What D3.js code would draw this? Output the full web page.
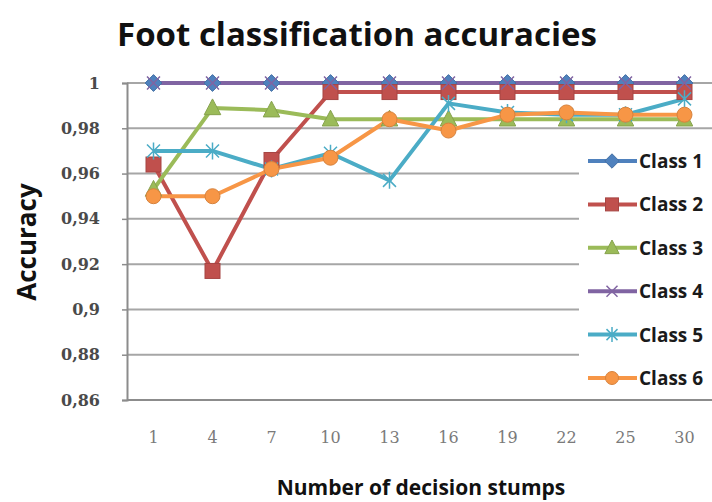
<!DOCTYPE html>
<html>
<head>
<meta charset="utf-8">
<script src="https://cdn.jsdelivr.net/npm/d3@7"></script>
<style>
  html, body { margin: 0; padding: 0; background: #fff; }
  svg { display: block; }
</style>
</head>
<body>
<svg id="chart" width="712" height="502"></svg>
<script>
// Number of decision stumps (x categories)
const stumps = ["1", "4", "7", "10", "13", "16", "19", "22", "25", "30"];

// Accuracy per class
const class1 = [1, 1, 1, 1, 1, 1, 1, 1, 1, 1];
const class2 = [0.964, 0.917, 0.966, 0.996, 0.996, 0.996, 0.996, 0.996, 0.996, 0.996];
const class3 = [0.953, 0.989, 0.988, 0.984, 0.984, 0.984, 0.984, 0.984, 0.984, 0.984];
const class4 = [1, 1, 1, 1, 1, 1, 1, 1, 1, 1];
const class5 = [0.970, 0.970, 0.962, 0.969, 0.957, 0.991, 0.987, 0.986, 0.986, 0.993];
const class6 = [0.950, 0.950, 0.962, 0.967, 0.984, 0.979, 0.986, 0.987, 0.986, 0.986];

const seriesNames = ["Class 1", "Class 2", "Class 3", "Class 4", "Class 5", "Class 6"];
const yTicks = [0.86, 0.88, 0.9, 0.92, 0.94, 0.96, 0.98, 1];

const series = [
  { name: seriesNames[0], values: class1, color: "#4F81BD", marker: "diamond" },
  { name: seriesNames[1], values: class2, color: "#C0504D", marker: "square" },
  { name: seriesNames[2], values: class3, color: "#9BBB59", marker: "triangle" },
  { name: seriesNames[3], values: class4, color: "#8064A2", marker: "x" },
  { name: seriesNames[4], values: class5, color: "#4BACC6", marker: "star" },
  { name: seriesNames[5], values: class6, color: "#F79646", marker: "circle" }
];

const svg = d3.select("#chart");
const plot = { left: 124, right: 714, top: 83, bottom: 400 };

const x = d3.scaleBand().domain(stumps).range([plot.left, plot.right]);
const y = d3.scaleLinear().domain([0.86, 1]).range([plot.bottom, plot.top]);
const cx = c => x(c) + x.bandwidth() / 2;

// Title
svg.append("text")
  .attr("x", 357).attr("y", 46)
  .attr("text-anchor", "middle")
  .style("font-family", "'Open Sans', sans-serif")
  .style("font-weight", "700")
  .style("font-size", "33px")
  .attr("fill", "#111")
  .text("Foot classification accuracies");

// Horizontal gridlines
svg.append("g")
  .selectAll("line")
  .data(yTicks.filter(t => t > 0.86))
  .join("line")
  .attr("x1", plot.left + 3).attr("x2", 712)
  .attr("y1", d => y(d)).attr("y2", d => y(d))
  .attr("stroke", "#a6a6a6").attr("stroke-width", 2);

// Y axis
const yAxis = d3.axisLeft(y)
  .tickValues(yTicks)
  .tickSize(5)
  .tickPadding(22)
  .tickFormat(d => d3.format(".2~f")(d).replace(".", ","));
const yg = svg.append("g")
  .attr("transform", `translate(${plot.left + 3},0)`)
  .call(yAxis);
yg.select(".domain").attr("stroke", "#8c8c8c").attr("stroke-width", 2);
yg.selectAll(".tick line").attr("stroke", "#8c8c8c").attr("stroke-width", 1.5);
yg.selectAll(".tick text")
  .style("font-family", "'DejaVu Serif', serif")
  .style("font-weight", "700")
  .style("font-size", "16px")
  .attr("fill", "#4a4a4a");

// X axis
const xAxis = d3.axisBottom(x).tickSize(0).tickPadding(32);
const xg = svg.append("g")
  .attr("transform", `translate(0,${plot.bottom})`)
  .call(xAxis);
xg.select(".domain").remove();
xg.append("line")
  .attr("x1", plot.left + 3).attr("x2", 712)
  .attr("y1", 0).attr("y2", 0)
  .attr("stroke", "#8c8c8c").attr("stroke-width", 2);
xg.selectAll(".tick text")
  .style("font-family", "'DejaVu Serif', serif")
  .style("font-size", "16px")
  .attr("fill", "#7a7a7a");

// Axis titles
svg.append("text")
  .attr("transform", "translate(36,242) rotate(-90)")
  .attr("text-anchor", "middle")
  .style("font-family", "'Open Sans', sans-serif")
  .style("font-weight", "700")
  .style("font-size", "26px")
  .attr("fill", "#111")
  .text("Accuracy");

svg.append("text")
  .attr("x", 421).attr("y", 495)
  .attr("text-anchor", "middle")
  .style("font-family", "'Open Sans', sans-serif")
  .style("font-weight", "700")
  .style("font-size", "21px")
  .attr("fill", "#111")
  .text("Number of decision stumps");

// Marker drawing helper
function drawMarker(g, type, color, px, py, s) {
  const dark = d3.color(color).darker(0.4).formatHex();
  if (type === "diamond") {
    g.append("path")
      .attr("d", `M${px},${py - s * 0.6}L${px + s * 0.6},${py}L${px},${py + s * 0.6}L${px - s * 0.6},${py}Z`)
      .attr("fill", color).attr("stroke", dark).attr("stroke-width", 1);
  } else if (type === "square") {
    g.append("rect")
      .attr("x", px - s / 2).attr("y", py - s / 2)
      .attr("width", s).attr("height", s)
      .attr("fill", color).attr("stroke", dark).attr("stroke-width", 1);
  } else if (type === "triangle") {
    g.append("path")
      .attr("d", `M${px},${py - s * 0.6}L${px + s * 0.55},${py + s * 0.45}L${px - s * 0.55},${py + s * 0.45}Z`)
      .attr("fill", color).attr("stroke", dark).attr("stroke-width", 1);
  } else if (type === "circle") {
    g.append("circle")
      .attr("cx", px).attr("cy", py).attr("r", s / 2)
      .attr("fill", color).attr("stroke", dark).attr("stroke-width", 1);
  } else if (type === "x" || type === "star") {
    const h = s / 2;
    const p = `M${px - h},${py - h}L${px + h},${py + h}M${px - h},${py + h}L${px + h},${py - h}` +
      (type === "star" ? `M${px},${py - h - 2}L${px},${py + h + 2}` : "");
    g.append("path")
      .attr("d", p)
      .attr("fill", "none").attr("stroke", color).attr("stroke-width", 1.5);
  }
}

const markerSize = { diamond: 14, square: 15, triangle: 15, circle: 15, x: 13, star: 13 };

// Lines for every class first
const line = d3.line().x((d, i) => cx(stumps[i])).y(d => y(d));
svg.append("g")
  .selectAll("path")
  .data(series)
  .join("path")
  .attr("d", s => line(s.values))
  .attr("fill", "none")
  .attr("stroke", s => s.color)
  .attr("stroke-width", 4)
  .attr("stroke-linejoin", "round");

// Then markers on top
const markers = svg.append("g");
series.forEach(s => {
  s.values.forEach((v, i) => {
    drawMarker(markers, s.marker, s.color, cx(stumps[i]), y(v), markerSize[s.marker]);
  });
});

// Legend with white background
const legend = svg.append("g");
legend.append("rect")
  .attr("x", 579).attr("y", 140)
  .attr("width", 133).attr("height", 258)
  .attr("fill", "#fff");
series.forEach((s, i) => {
  const ly = 161 + i * 43.4;
  const row = legend.append("g");
  row.append("line")
    .attr("x1", 588).attr("x2", 637)
    .attr("y1", ly).attr("y2", ly)
    .attr("stroke", s.color).attr("stroke-width", 4);
  drawMarker(row, s.marker, s.color, 612, ly, markerSize[s.marker] - 2);
  row.append("text")
    .attr("x", 639).attr("y", ly + 7)
    .style("font-family", "'Open Sans', sans-serif")
    .style("font-weight", "700")
    .style("font-size", "19px")
    .attr("fill", "#1a1a1a")
    .text(s.name);
});
</script>
</body>
</html>
